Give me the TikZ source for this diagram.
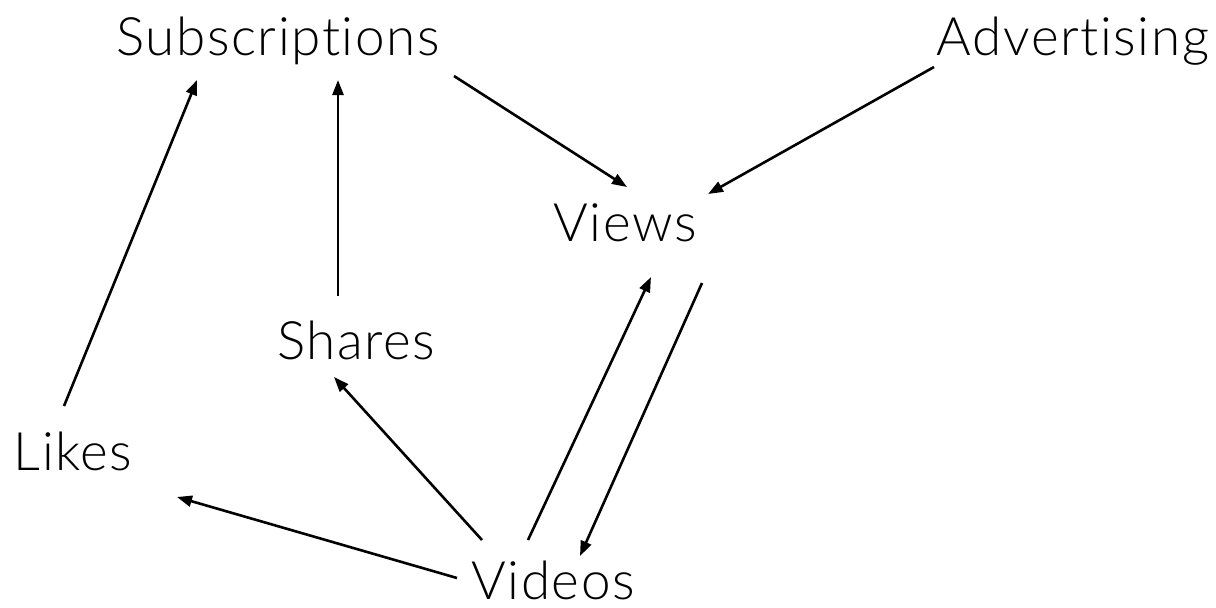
\documentclass[tikz,border=0pt]{standalone}
\usepackage{fontspec}
\setmainfont{Lato Light}[Ligatures={NoCommon,NoRare,NoDiscretionary},LetterSpace=3]
\usetikzlibrary{arrows.meta}
\tikzset{
  label/.style={inner sep=0pt, anchor=base, font=\fontsize{26.5}{30}\selectfont},
  arr/.style={-{Triangle[length=7.5pt,width=5.5pt]}, line width=1.3pt}
}
\begin{document}
\begin{tikzpicture}[x=0.5pt,y=-0.5pt]
  \useasboundingbox (0,0) rectangle (1216,607);
  % labels, placed by baseline centre
  \node[label] (subs)   at (278,55)  {Subscriptions};
  \node[label] (adv)    at (1073,55) {Advertising};
  \node[label] (views)  at (625,241) {Views};
  \node[label] (shares) at (356,359) {Shares};
  \node[label] (likes)  at (73,470)  {Likes};
  \node[label] (videos) at (553,599) {Videos};
  % connectors
  \draw[arr] ([shift={(-9,-64)}]likes.base)   -- ([shift={(-81,25)}]subs.base);
  \draw[arr] ([shift={(-18,-63)}]shares.base) -- ([shift={(60,25)}]subs.base);
  \draw[arr] ([shift={(176,21)}]subs.base)    -- ([shift={(2,-54)}]views.base);
  \draw[arr] ([shift={(-139,12)}]adv.base)    -- ([shift={(83,-47)}]views.base);
  \draw[arr] ([shift={(-25,-59)}]videos.base) -- ([shift={(26,36)}]views.base);
  \draw[arr] ([shift={(77,42)}]views.base)    -- ([shift={(27,-43)}]videos.base);
  \draw[arr] ([shift={(-71,-59)}]videos.base) -- ([shift={(-22,18)}]shares.base);
  \draw[arr] ([shift={(-96,-21)}]videos.base) -- ([shift={(104,27)}]likes.base);
\end{tikzpicture}
\end{document}
